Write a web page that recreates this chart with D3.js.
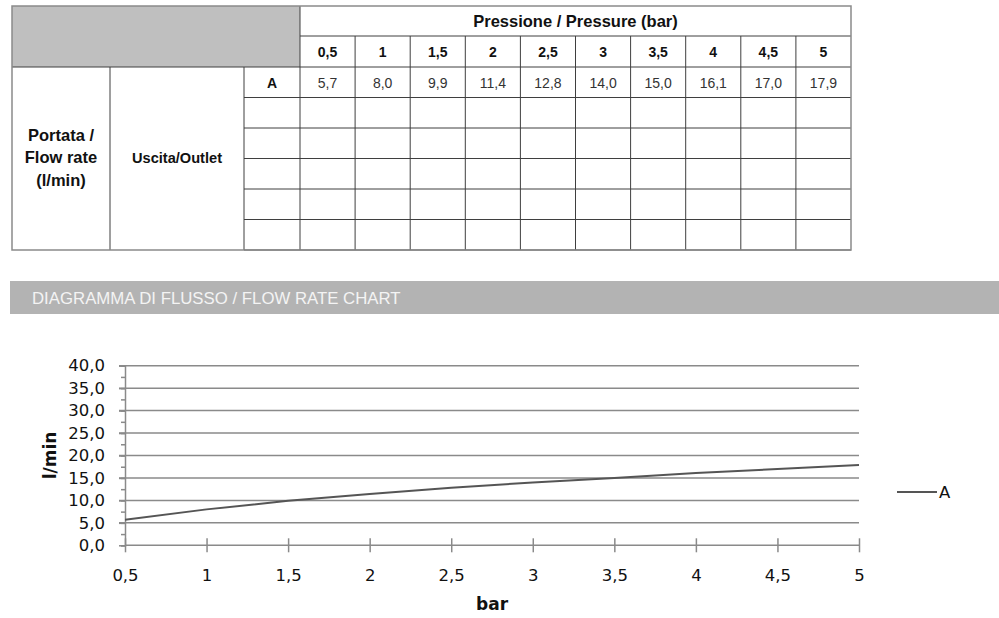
<!DOCTYPE html>
<html>
<head>
<meta charset="utf-8">
<script src="https://cdn.jsdelivr.net/npm/d3@7"></script>
<style>
  html, body { margin: 0; padding: 0; background: #fff; }
  svg { display: block; }
</style>
</head>
<body>
<svg id="chart" width="999" height="618"></svg>
<script>
// data
const pressureLabels = ["0,5", "1", "1,5", "2", "2,5", "3", "3,5", "4", "4,5", "5"];
const pressureValues = [0.5, 1, 1.5, 2, 2.5, 3, 3.5, 4, 4.5, 5];
const flowA = [5.7, 8.0, 9.9, 11.4, 12.8, 14.0, 15.0, 16.1, 17.0, 17.9];
const outlets = ["A", "", "", "", "", ""];
const yTicks = [0, 5, 10, 15, 20, 25, 30, 35, 40];

const svg = d3.select("#chart");
const comma = (d) => String(d).replace(".", ",");
const arial = "'Liberation Sans', Arial, sans-serif";
const calib = "'DejaVu Sans', sans-serif";

// ---------- table ----------
const tbl = {left: 12, right: 851, top: 6, head1: 36, head2: 67, bottom: 250};
const colX = [12, 110, 244, 300];
const pCol = d3.scaleBand().domain(pressureLabels).range([300, tbl.right]);
const rowY = d3.scaleBand().domain(d3.range(outlets.length)).range([tbl.head2, tbl.bottom]);

const table = svg.append("g");

table.append("rect")
    .attr("x", tbl.left).attr("y", tbl.top)
    .attr("width", 300 - tbl.left).attr("height", tbl.head2 - tbl.top)
    .style("fill", "#bfbfbf");

const inner = "#3f3f3f";
// horizontal lines
table.append("line").attr("x1", 300).attr("x2", tbl.right).attr("y1", tbl.head1).attr("y2", tbl.head1)
    .style("stroke", inner);
table.selectAll(".hrow")
    .data(d3.range(outlets.length + 1))
    .enter().append("line")
    .attr("class", "hrow")
    .attr("x1", (d) => d === 0 ? tbl.left : colX[2])
    .attr("x2", tbl.right)
    .attr("y1", (d) => rowY(d) || (d === 0 ? tbl.head2 : tbl.bottom))
    .attr("y2", (d) => rowY(d) || (d === 0 ? tbl.head2 : tbl.bottom))
    .style("stroke", inner);
// vertical lines
table.selectAll(".vcol")
    .data(colX.slice(1).concat(pressureLabels.slice(1).map((p) => pCol(p))))
    .enter().append("line")
    .attr("class", "vcol")
    .attr("x1", (d) => d).attr("x2", (d) => d)
    .attr("y1", (d) => d > 300 ? tbl.head1 : (d === 300 ? tbl.top : tbl.head2))
    .attr("y2", tbl.bottom)
    .style("stroke", inner);
// outer border
table.append("rect")
    .attr("x", tbl.left).attr("y", tbl.top)
    .attr("width", tbl.right - tbl.left).attr("height", tbl.bottom - tbl.top)
    .style("fill", "none").style("stroke", "#8a8a8a").style("stroke-width", 1.5);

table.append("text")
    .attr("x", (300 + tbl.right) / 2).attr("y", 27)
    .attr("text-anchor", "middle")
    .style("font-family", arial)
    .style("font-size", "16.5px").style("font-weight", "bold").style("fill", "#111")
    .text("Pressione / Pressure (bar)");

table.selectAll(".plabel")
    .data(pressureLabels)
    .enter().append("text")
    .attr("class", "plabel")
    .attr("x", (d) => pCol(d) + pCol.bandwidth() / 2)
    .attr("y", 57)
    .attr("text-anchor", "middle")
    .style("font-family", arial)
    .style("font-size", "14px").style("font-weight", "bold").style("fill", "#111")
    .text((d) => d);

table.selectAll(".outlet")
    .data(outlets)
    .enter().append("text")
    .attr("class", "outlet")
    .attr("x", 272)
    .attr("y", (d, i) => rowY(i) + rowY.bandwidth() / 2 + 5.5)
    .attr("text-anchor", "middle")
    .style("font-family", arial)
    .style("font-size", "14px").style("font-weight", "bold").style("fill", "#111")
    .text((d) => d);

table.selectAll(".val")
    .data(flowA)
    .enter().append("text")
    .attr("class", "val")
    .attr("x", (d, i) => pCol(pressureLabels[i]) + pCol.bandwidth() / 2)
    .attr("y", rowY(0) + rowY.bandwidth() / 2 + 5.5)
    .attr("text-anchor", "middle")
    .style("font-family", arial)
    .style("font-size", "14px").style("fill", "#333")
    .text((d) => d3.format(".1f")(d).replace(".", ","));

const portata = table.append("text")
    .attr("x", 61).attr("text-anchor", "middle")
    .style("font-family", arial)
    .style("font-size", "16.5px").style("font-weight", "bold").style("fill", "#111");
["Portata /", "Flow rate", "(l/min)"].forEach((t, i) => {
  portata.append("tspan").attr("x", 61).attr("y", 141 + i * 22.3).text(t);
});

table.append("text")
    .attr("x", 177).attr("y", 163).attr("text-anchor", "middle")
    .style("font-family", arial)
    .style("font-size", "14.6px").style("font-weight", "bold").style("fill", "#111")
    .text("Uscita/Outlet");

// ---------- banner ----------
svg.append("rect")
    .attr("x", 10).attr("y", 281).attr("width", 989).attr("height", 33)
    .style("fill", "#b3b3b3");
svg.append("text")
    .attr("x", 32).attr("y", 303.5)
    .style("font-family", arial)
    .style("font-size", "16.8px").style("fill", "#f4f4f4")
    .text("DIAGRAMMA DI FLUSSO / FLOW RATE CHART");

// ---------- chart ----------
const x = d3.scaleLinear().domain([0.5, 5]).range([125, 859]);
const y = d3.scaleLinear().domain([0, 40]).range([545.3, 365.7]);
const chart = svg.append("g");
const gridColor = "#8a8a8a";

// horizontal gridlines
chart.selectAll(".grid")
    .data(yTicks.filter((d) => d > 0))
    .enter().append("line")
    .attr("class", "grid")
    .attr("x1", 119).attr("x2", x(5))
    .attr("y1", (d) => y(d)).attr("y2", (d) => y(d))
    .style("stroke", gridColor).style("stroke-width", 1.5);

// y axis with minor ticks
const yMinor = d3.range(0, 40.1, 2.5);
chart.append("g")
    .attr("transform", `translate(${x(0.5)},0)`)
    .call(d3.axisLeft(y).tickValues(yMinor).tickSize(4).tickFormat(""))
    .call((g) => g.selectAll("line, path").style("stroke", gridColor).style("stroke-width", 1.5));
chart.append("g")
    .attr("transform", `translate(${x(0.5)},0)`)
    .call(d3.axisLeft(y).tickValues(yTicks).tickSize(6).tickPadding(14)
        .tickFormat((d) => d3.format(".1f")(d).replace(".", ",")))
    .call((g) => g.select(".domain").remove())
    .call((g) => g.selectAll("line").style("stroke", gridColor).style("stroke-width", 1.5))
    .call((g) => g.selectAll("text").style("font-family", calib)
        .style("font-size", "16.5px").style("fill", "#111"));

// x axis (ticks crossing the line)
chart.append("g")
    .attr("transform", `translate(0,${y(0)})`)
    .call(d3.axisBottom(x).tickValues(pressureValues).tickSize(7).tickPadding(17).tickFormat(comma))
    .call((g) => g.selectAll(".domain").attr("d", `M${x(0.5)},0H${x(5)}`))
    .call((g) => g.selectAll(".tick line").attr("y1", -7))
    .call((g) => g.selectAll("line, path").style("stroke", gridColor).style("stroke-width", 1.5))
    .call((g) => g.selectAll("text").style("font-family", calib)
        .style("font-size", "16.5px").style("fill", "#111"));

// series line
const line = d3.line()
    .x((d, i) => x(pressureValues[i]))
    .y((d) => y(d));
chart.append("path")
    .datum(flowA)
    .attr("d", line)
    .style("fill", "none")
    .style("stroke", "#555")
    .style("stroke-width", 2);

// axis titles
chart.append("text")
    .attr("transform", `translate(56,${(y(0) + y(40)) / 2}) rotate(-90)`)
    .attr("text-anchor", "middle")
    .style("font-family", calib)
    .style("font-size", "17px").style("font-weight", "bold").style("fill", "#111")
    .text("l/min");
chart.append("text")
    .attr("x", (x(0.5) + x(5)) / 2).attr("y", 610)
    .attr("text-anchor", "middle")
    .style("font-family", calib)
    .style("font-size", "17px").style("font-weight", "bold").style("fill", "#111")
    .text("bar");

// legend
const legend = chart.append("g").attr("transform", "translate(897,492)");
legend.append("line").attr("x1", 0).attr("x2", 40)
    .style("stroke", "#555").style("stroke-width", 2);
legend.append("text").attr("x", 42).attr("y", 6)
    .style("font-family", calib)
    .style("font-size", "16.5px").style("fill", "#111")
    .text("A");
</script>
</body>
</html>
